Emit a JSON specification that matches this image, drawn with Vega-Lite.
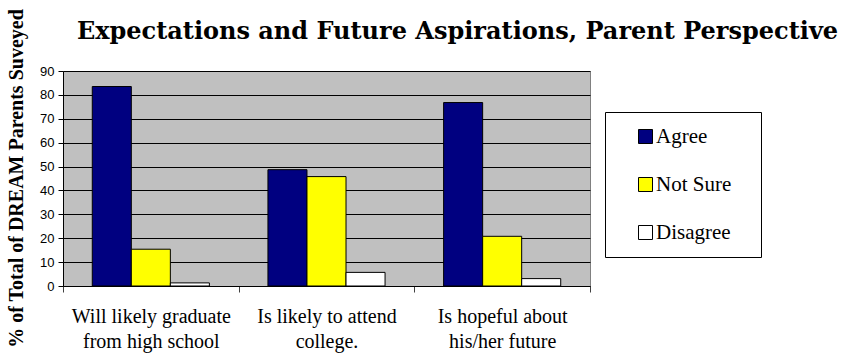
{
  "$schema": "https://vega.github.io/schema/vega-lite/v6.json",
  "autosize": "none",
  "padding": {"left": 63, "top": 71, "right": 254, "bottom": 70},
  "width": 527,
  "height": 215,
  "background": "#FFFFFF",
  "title": {
    "text": "Expectations and Future Aspirations, Parent Perspective",
    "font": "DejaVu Serif",
    "fontWeight": "bold",
    "fontSize": 24,
    "color": "#000000",
    "anchor": "middle",
    "dx": 131,
    "offset": -54,
    "baseline": "alphabetic"
  },
  "data": {
    "values": [
      {"question": "Will likely graduate from high school", "response": "Agree", "pct": 83.5},
      {"question": "Will likely graduate from high school", "response": "Not Sure", "pct": 15.4},
      {"question": "Will likely graduate from high school", "response": "Disagree", "pct": 1.3},
      {"question": "Is likely to attend college.", "response": "Agree", "pct": 48.7},
      {"question": "Is likely to attend college.", "response": "Not Sure", "pct": 45.8},
      {"question": "Is likely to attend college.", "response": "Disagree", "pct": 5.7},
      {"question": "Is hopeful about his/her future", "response": "Agree", "pct": 76.8},
      {"question": "Is hopeful about his/her future", "response": "Not Sure", "pct": 20.8},
      {"question": "Is hopeful about his/her future", "response": "Disagree", "pct": 3.1}
    ]
  },
  "mark": {"type": "bar", "stroke": "#000000", "strokeWidth": 1},
  "encoding": {
    "x": {
      "field": "question",
      "type": "nominal",
      "sort": null,
      "scale": {"paddingInner": 0, "paddingOuter": 0},
      "axis": {
        "title": null,
        "labelAngle": 0,
        "labelFont": "Liberation Serif",
        "labelFontSize": 20,
        "labelColor": "#000000",
        "labelLineHeight": 25,
        "labelBaseline": "top",
        "labelPadding": 14,
        "labelLimit": 300,
        "labelExpr": "[join(slice(split(datum.label, ' '), 0, datum.label == 'Is likely to attend college.' ? 4 : 3), ' '), join(slice(split(datum.label, ' '), datum.label == 'Is likely to attend college.' ? 4 : 3), ' ')]",
        "tickBand": "extent",
        "tickSize": 6,
        "tickColor": "#404040",
        "domainColor": "#000000",
        "grid": false
      }
    },
    "xOffset": {
      "field": "response",
      "type": "nominal",
      "sort": ["Agree", "Not Sure", "Disagree"],
      "scale": {"paddingInner": 0, "paddingOuter": 0.75}
    },
    "y": {
      "field": "pct",
      "type": "quantitative",
      "scale": {"domain": [0, 90], "nice": false},
      "axis": {
        "values": [0, 10, 20, 30, 40, 50, 60, 70, 80, 90],
        "title": "% of Total of DREAM Parents Suveyed",
        "titleFont": "Liberation Serif",
        "titleFontWeight": "bold",
        "titleFontSize": 20,
        "titleColor": "#000000",
        "titleAngle": -90,
        "titleAlign": "center",
        "titleBaseline": "middle",
        "titleX": -47,
        "titleY": 107,
        "labelFont": "Liberation Sans",
        "labelFontSize": 13,
        "labelColor": "#000000",
        "labelPadding": 4,
        "tickSize": 5,
        "tickColor": "#000000",
        "domainColor": "#000000",
        "grid": true,
        "gridColor": "#000000",
        "gridOpacity": 1
      }
    },
    "color": {
      "field": "response",
      "type": "nominal",
      "sort": ["Agree", "Not Sure", "Disagree"],
      "scale": {"domain": ["Agree", "Not Sure", "Disagree"], "range": ["#000080", "#FFFF00", "#FFFFFF"]},
      "legend": {
        "title": null,
        "orient": "none",
        "legendX": 542,
        "legendY": 41,
        "padding": 14,
        "fillColor": "#FFFFFF",
        "strokeColor": "#000000",
        "symbolType": "square",
        "symbolSize": 196,
        "symbolStrokeColor": "#000000",
        "symbolStrokeWidth": 1,
        "symbolOffset": 16,
        "labelFont": "Liberation Serif",
        "labelFontSize": 21,
        "labelColor": "#000000",
        "labelOffset": 0,
        "labelExpr": "datum.label + '\u2800'",
        "rowPadding": 26
      }
    }
  },
  "config": {
    "view": {"stroke": "#808080", "fill": "#C0C0C0"}
  }
}
